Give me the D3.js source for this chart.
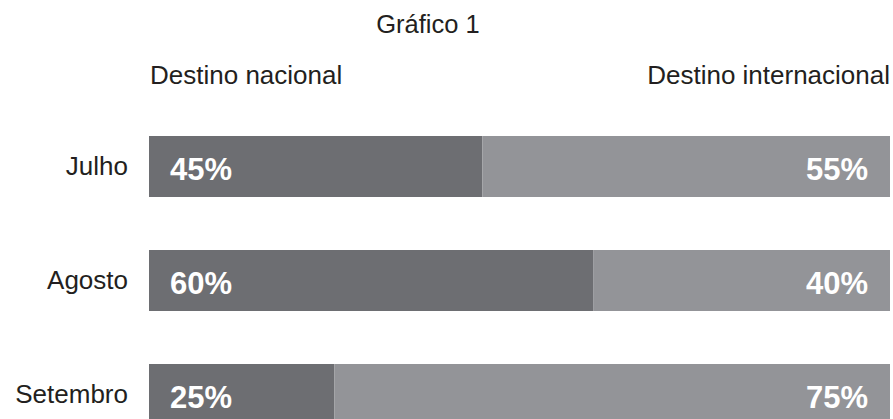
<!DOCTYPE html>
<html>
<head>
<meta charset="utf-8">
<script src="https://cdn.jsdelivr.net/npm/d3@7"></script>
<style>
  html, body { margin: 0; padding: 0; background: #fff; }
  svg { display: block; }
  text { font-family: "Liberation Sans", Arial, Helvetica, sans-serif; }
</style>
</head>
<body>
<svg id="chart" width="893" height="419"></svg>
<script>
const title = "Gráfico 1";
const seriesNames = ["Destino nacional", "Destino internacional"];
const categories = ["Julho", "Agosto", "Setembro"];
const nacional = [45, 60, 25];
const internacional = [55, 40, 75];

const W = 893, H = 419;
const svg = d3.select("#chart");

const x = d3.scaleLinear().domain([0, 100]).range([149, 890]);
const y = d3.scaleBand().domain(categories).range([136, 425]).paddingInner(0.465).paddingOuter(0);

const colors = ["#6d6e72", "#939498"];

const rows = categories.map((c, i) => ({ cat: c, nac: nacional[i], int: internacional[i] }));

// bars
const g = svg.append("g");
g.selectAll("rect.nac").data(rows).join("rect")
  .attr("class", "nac")
  .attr("x", d => x(0))
  .attr("y", d => y(d.cat))
  .attr("width", d => x(d.nac) - x(0))
  .attr("height", y.bandwidth())
  .attr("fill", colors[0]);
g.selectAll("rect.int").data(rows).join("rect")
  .attr("class", "int")
  .attr("x", d => x(d.nac))
  .attr("y", d => y(d.cat))
  .attr("width", d => x(d.nac + d.int) - x(d.nac))
  .attr("height", y.bandwidth())
  .attr("fill", colors[1]);

// value labels
g.selectAll("text.vn").data(rows).join("text")
  .attr("class", "vn")
  .attr("x", x(0) + 21)
  .attr("y", d => y(d.cat) + 44)
  .attr("fill", "#fff")
  .attr("font-size", 31)
  .attr("font-weight", "bold")
  .text(d => d.nac + "%");
g.selectAll("text.vi").data(rows).join("text")
  .attr("class", "vi")
  .attr("x", x(100) - 22)
  .attr("y", d => y(d.cat) + 44)
  .attr("text-anchor", "end")
  .attr("fill", "#fff")
  .attr("font-size", 31)
  .attr("font-weight", "bold")
  .text(d => d.int + "%");

// category axis labels
const yAxis = d3.axisLeft(y).tickSize(0).tickPadding(21);
const ax = svg.append("g").attr("transform", `translate(${x(0)},0)`).call(yAxis);
ax.select(".domain").remove();
ax.selectAll("text")
  .attr("font-size", 26)
  .attr("fill", "#231f20")
  .attr("dy", "0.33em")
  .style("font-family", '"Liberation Sans", Arial, sans-serif');

// series headers
svg.append("text")
  .attr("x", x(0) + 1)
  .attr("y", 84)
  .attr("font-size", 26)
  .attr("fill", "#231f20")
  .text(seriesNames[0]);
svg.append("text")
  .attr("x", x(100))
  .attr("y", 84)
  .attr("text-anchor", "end")
  .attr("font-size", 26)
  .attr("fill", "#231f20")
  .text(seriesNames[1]);

// title
svg.append("text")
  .attr("x", 428)
  .attr("y", 33)
  .attr("text-anchor", "middle")
  .attr("font-size", 25.5)
  .attr("fill", "#231f20")
  .text(title);
</script>
</body>
</html>
